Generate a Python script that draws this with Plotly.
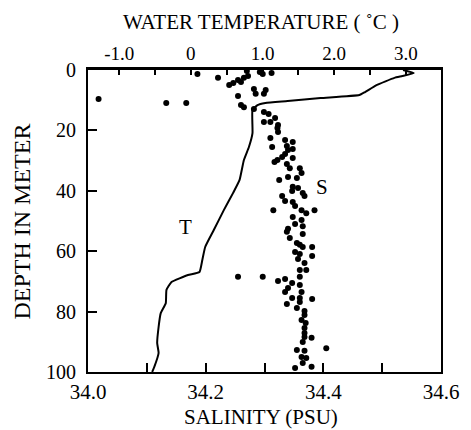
import plotly.graph_objects as go

# Salinity (PSU) profile – scatter points
salinity = [34.018, 34.133, 34.167, 34.186, 34.221, 34.240, 34.247, 34.255, 34.260, 34.265,
            34.272, 34.270, 34.292, 34.297, 34.312, 34.282, 34.285, 34.299, 34.302, 34.255,
            34.260, 34.265, 34.282, 34.299, 34.307, 34.299, 34.310, 34.318, 34.323, 34.322,
            34.323, 34.310, 34.313, 34.335, 34.348, 34.338, 34.348, 34.340, 34.335, 34.330,
            34.322, 34.317, 34.348, 34.338, 34.343, 34.360, 34.363, 34.340, 34.325, 34.355,
            34.348, 34.357, 34.347, 34.365, 34.368, 34.330, 34.335, 34.348, 34.352, 34.315,
            34.363, 34.371, 34.385, 34.348, 34.363, 34.352, 34.365, 34.340, 34.338, 34.365,
            34.343, 34.355, 34.360, 34.365, 34.381, 34.352, 34.360, 34.381, 34.357, 34.368,
            34.360, 34.371, 34.297, 34.323, 34.335, 34.360, 34.347, 34.360, 34.340, 34.335,
            34.363, 34.347, 34.360, 34.381, 34.360, 34.338, 34.355, 34.368, 34.368, 34.363,
            34.370, 34.368, 34.368, 34.368, 34.380, 34.365, 34.355, 34.368, 34.405, 34.363,
            34.371, 34.365, 34.380, 34.352, 34.255]
sal_depth = [9.6, 10.9, 10.9, 1.3, 2.6, 5.0, 4.3, 3.3, 4.0, 2.6,
             2.0, 0.3, 0.7, 1.3, 1.0, 6.3, 7.9, 7.9, 6.6, 8.6,
             11.6, 12.3, 12.9, 13.9, 14.6, 17.2, 17.2, 15.9, 18.2, 19.2,
             20.5, 22.5, 25.5, 23.2, 23.8, 25.2, 26.2, 26.5, 27.8, 28.8,
             29.8, 30.5, 29.1, 31.1, 32.5, 32.5, 34.1, 35.4, 36.4, 35.8,
             38.7, 39.1, 40.1, 40.7, 41.7, 41.7, 43.4, 43.7, 45.0, 46.4,
             46.4, 47.4, 46.4, 48.7, 49.7, 51.0, 51.7, 52.6, 53.6, 54.3,
             55.6, 57.3, 57.9, 58.6, 58.6, 60.3, 60.9, 61.6, 62.6, 63.9,
             66.2, 66.2, 68.5, 69.9, 69.2, 68.5, 70.5, 71.2, 72.2, 73.5,
             73.5, 75.5, 75.5, 75.8, 76.8, 77.5, 78.8, 79.8, 81.1, 82.8,
             83.8, 85.4, 87.1, 88.4, 88.7, 90.1, 92.7, 93.0, 92.1, 95.0,
             95.4, 97.0, 98.3, 98.7, 68.5]

# Water temperature (°C) profile – line
temperature = [2.96, 3.11, 2.95, 2.84, 2.59, 2.43, 2.35, 1.81, 1.35, 1.04,
               0.93, 0.86, 0.86, 0.81, 0.74, 0.68, 0.59, 0.46, 0.32, 0.20,
               0.16, 0.12, -0.04, -0.27, -0.34, -0.35, -0.42, -0.45, -0.47, -0.45,
               -0.51, -0.54]
temp_depth = [0.0, 1.0, 2.0, 2.6, 5.0, 7.3, 8.3, 9.3, 10.3, 10.9,
              11.6, 13.2, 20.9, 25.5, 29.8, 36.4, 40.7, 46.4, 53.0, 58.6,
              62.9, 66.9, 67.9, 70.2, 72.8, 77.2, 80.5, 85.1, 90.4, 93.7,
              98.3, 100.0]

sal_ticks = [34.0, 34.1, 34.2, 34.3, 34.4, 34.5, 34.6]
sal_ticktext = ["34.0", "", "34.2", "", "34.4", "", "34.6"]
temp_ticks = [-1.0, -0.5, 0.0, 0.5, 1.0, 1.5, 2.0, 2.5, 3.0]
temp_ticktext = ["-1.0", "", "0", "", "1.0", "", "2.0", "", "3.0"]
depth_ticks = [0, 20, 40, 60, 80, 100]

FONT = "Liberation Serif"

fig = go.Figure()
fig.add_trace(go.Scatter(
    x=salinity, y=sal_depth, mode="markers",
    marker=dict(color="black", size=6, line=dict(width=0)),
    xaxis="x", yaxis="y", showlegend=False, hoverinfo="skip"))
fig.add_trace(go.Scatter(
    x=temperature, y=temp_depth, mode="lines",
    line=dict(color="black", width=2, shape="spline", smoothing=0.4),
    xaxis="x2", yaxis="y", showlegend=False, hoverinfo="skip"))

fig.update_layout(
    width=471, height=430,
    margin=dict(l=88, r=21, t=70, b=58),
    paper_bgcolor="white", plot_bgcolor="white",
    font=dict(family=FONT, color="black"),
    xaxis=dict(range=[34.0, 34.6], tickvals=sal_ticks, ticktext=sal_ticktext,
               ticks="inside", ticklen=9, tickwidth=2, tickcolor="black",
               showline=True, linecolor="black", linewidth=2,
               showgrid=False, zeroline=False,
               tickfont=dict(family=FONT, size=21, color="black")),
    xaxis2=dict(range=[-1.435, 3.49], overlaying="x", side="top",
                tickvals=temp_ticks, ticktext=temp_ticktext,
                ticks="inside", ticklen=5, tickwidth=2, tickcolor="black",
                showline=True, linecolor="black", linewidth=2.5,
                showgrid=False, zeroline=False,
                tickfont=dict(family=FONT, size=19, color="black")),
    yaxis=dict(range=[100, 0], tickvals=depth_ticks,
               ticks="inside", ticklen=9, tickwidth=2, tickcolor="black",
               showline=True, mirror=True, linecolor="black", linewidth=2,
               showgrid=False, zeroline=False, ticklabelstandoff=6,
               tickfont=dict(family=FONT, size=20, color="black")),
    annotations=[
        dict(text="WATER TEMPERATURE ( ˚C )", xref="paper", yref="paper",
             x=0.489, y=1.159, xanchor="center", yanchor="middle", showarrow=False,
             font=dict(family=FONT, size=21, color="black")),
        dict(text="SALINITY (PSU)", xref="paper", yref="paper",
             x=0.489, y=-0.149, xanchor="center", yanchor="middle", showarrow=False,
             font=dict(family=FONT, size=21, color="black")),
        dict(text="DEPTH IN METER", xref="paper", yref="paper",
             x=-0.188, y=0.497, xanchor="center", yanchor="middle", showarrow=False,
             textangle=-90, font=dict(family=FONT, size=24, color="black")),
        dict(text="T", xref="x", yref="y", x=34.166, y=52,
             xanchor="center", yanchor="middle", showarrow=False,
             font=dict(family=FONT, size=21, color="black")),
        dict(text="S", xref="x", yref="y", x=34.398, y=38.7,
             xanchor="center", yanchor="middle", showarrow=False,
             font=dict(family=FONT, size=21, color="black")),
    ],
)

fig.write_html("out.html")
